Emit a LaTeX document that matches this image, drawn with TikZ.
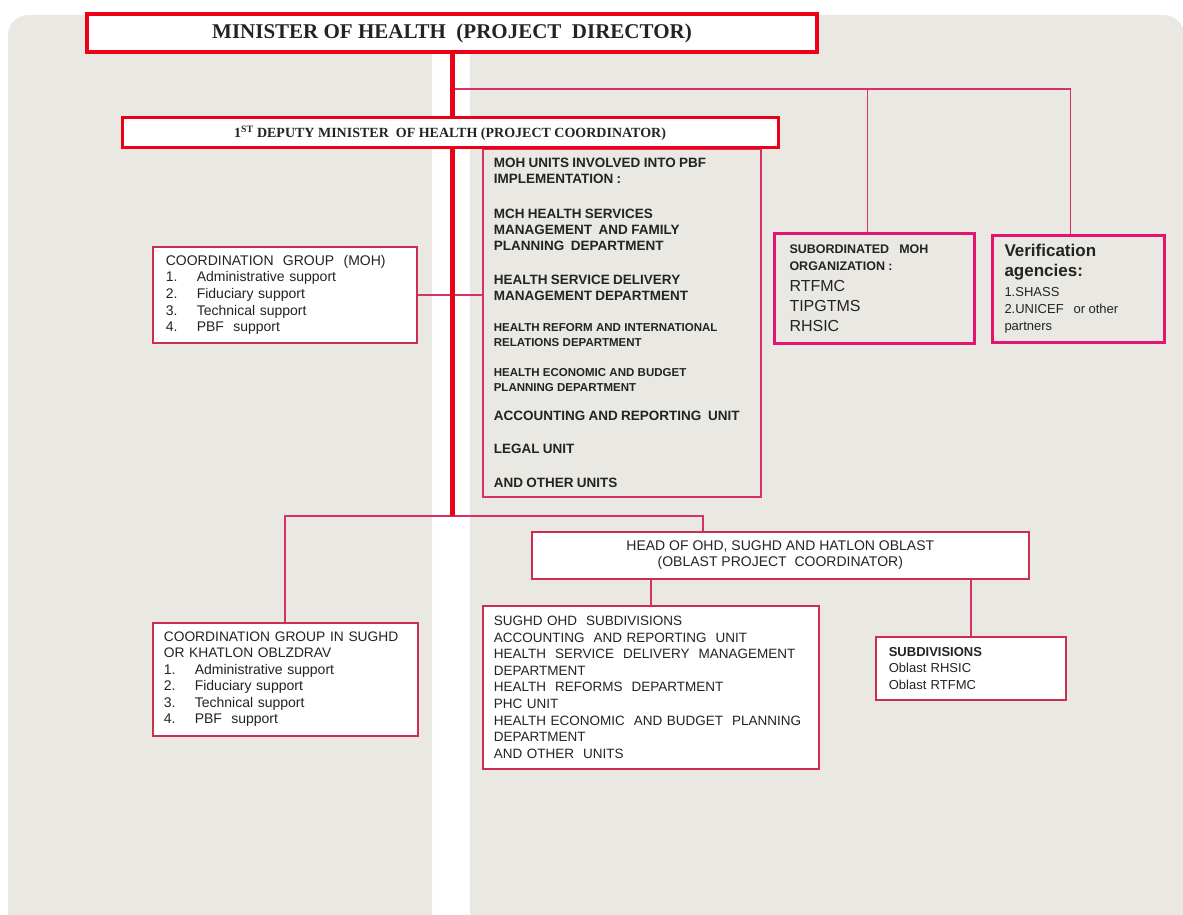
\documentclass[tikz,border=0pt]{standalone}
\usepackage{fontspec}
\setmainfont{Liberation Sans}
\newfontfamily\titlefont{Liberation Serif}
\usepackage{tikz}
\usetikzlibrary{positioning}

\definecolor{panelbg}{RGB}{233,232,226}
\definecolor{orgred}{RGB}{236,0,22}
\definecolor{linkpink}{RGB}{218,48,104}
\definecolor{boxpink}{RGB}{226,22,112}
\definecolor{edgered}{RGB}{205,45,80}
\definecolor{inktext}{RGB}{35,35,35}

\newcommand{\bigunit}{\fontsize{13.5}{16}\selectfont\bfseries}
\newcommand{\smallunit}{\fontsize{11.5}{15}\selectfont\bfseries}
\newcommand{\numitem}[2]{\makebox[31pt][l]{#1}#2}

\begin{document}
\begin{tikzpicture}[
    x=1pt, y=-1pt,
    panel/.style={fill=panelbg, rounded corners=20pt},
    topbox/.style={rectangle, draw=orgred, line width=4pt, fill=white, text=inktext, font=\titlefont\bfseries\fontsize{21}{24}\selectfont, minimum width=730pt, minimum height=38pt},
    deputybox/.style={rectangle, draw=orgred, line width=3pt, fill=white, text=inktext, font=\titlefont\bfseries\fontsize{14}{16}\selectfont, minimum width=656pt, minimum height=30pt},
    unitbox/.style={rectangle, draw=linkpink, line width=1.6pt, text=inktext, align=left, anchor=north west, inner ysep=2pt},
    groupbox/.style={rectangle, draw=edgered, line width=1.6pt, fill=white, text=inktext, align=left, anchor=north west, inner ysep=2pt, font=\fontsize{14}{16.7}\selectfont},
    orgbox/.style={rectangle, draw=boxpink, line width=3pt, text=inktext, align=left, inner ysep=2pt},
    link/.style={draw=linkpink, line width=1.8pt},
    trunk/.style={draw=orgred, line width=5pt}
]
\clip (0,0) rectangle (1183,915);
\fill[white] (0,0) rectangle (1183,915);

% Background panels
\fill[panel] (8,15) rectangle (432,940);
\fill[panel] (470,15) rectangle (1184,940);

% Minister of health
\node[topbox] (minister) at (452,33) {MINISTER OF HEALTH\ \ (PROJECT\ \ DIRECTOR)};

% MOH units
\node[unitbox, text width=256pt, inner xsep=11pt, minimum height=348pt] (moh_units) at (482,148) {
    {\bigunit MOH UNITS INVOLVED INTO PBF\\ IMPLEMENTATION :\par}
    \vspace{19pt}
    {\bigunit MCH HEALTH SERVICES\\ MANAGEMENT\ \ AND FAMILY\\ PLANNING\ \ DEPARTMENT\par}
    \vspace{18pt}
    {\bigunit HEALTH SERVICE DELIVERY\\ MANAGEMENT DEPARTMENT\par}
    \vspace{16pt}
    {\smallunit HEALTH REFORM AND INTERNATIONAL\\ RELATIONS DEPARTMENT\par}
    \vspace{15pt}
    {\smallunit HEALTH ECONOMIC AND BUDGET\\ PLANNING DEPARTMENT\par}
    \vspace{13pt}
    {\bigunit ACCOUNTING AND REPORTING\ \ UNIT\par}
    \vspace{17pt}
    {\bigunit LEGAL UNIT\par}
    \vspace{18pt}
    {\bigunit AND OTHER UNITS\par}
};

% Coordination group (MOH)
\node[groupbox, text width=238pt, inner xsep=13pt, minimum height=96pt] (coord_moh) at (152,246) {
    COORDINATION\ \ GROUP\ \ (MOH)\\
    \numitem{1.}{Administrative support}\\
    \numitem{2.}{Fiduciary support}\\
    \numitem{3.}{Technical support}\\
    \numitem{4.}{PBF\ \ support}
};

% Subordinated organization and verification
\node[orgbox, anchor=north west, text width=170pt, inner xsep=15pt, minimum height=110pt] (sub_org) at (773,232) {
    {\fontsize{12.5}{17}\selectfont\bfseries SUBORDINATED\ \ \ MOH\\ ORGANIZATION :\par}
    \vspace{1pt}
    {\fontsize{16}{20}\selectfont RTFMC\\ TIPGTMS\\ RHSIC\par}
};
\node[orgbox, right=15pt of sub_org, text width=148pt, inner xsep=12pt, minimum height=107pt] (verif) {
    {\fontsize{17}{19.5}\selectfont\bfseries Verification\\ agencies:\par}
    \vspace{3pt}
    {\fontsize{13}{17}\selectfont 1.SHASS\\ 2.UNICEF\ \ \ or other\\ partners\par}
};

% Oblast level
\node[groupbox, align=center, minimum width=497pt, minimum height=47pt, font=\fontsize{14}{16}\selectfont] (head) at (531,531) {
    HEAD OF OHD,\ SUGHD AND HATLON OBLAST\\
    (OBLAST PROJECT\ \ COORDINATOR)
};
\node[groupbox, text width=243pt, inner xsep=11pt, minimum height=113pt] (coord_obl) at (152,622) {
    {\fontsize{13.8}{16.5}\selectfont COORDINATION GROUP IN SUGHD\\
    OR KHATLON OBLZDRAV\par}
    {\fontsize{14}{16.5}\selectfont
    \numitem{1.}{Administrative support}\\
    \numitem{2.}{Fiduciary support}\\
    \numitem{3.}{Technical support}\\
    \numitem{4.}{PBF\ \ support}\par}
};
\node[groupbox, text width=314pt, inner xsep=11pt, minimum height=163pt, font=\fontsize{13.5}{16.6}\selectfont] (sughd) at (482,605) {
    SUGHD OHD\ \ SUBDIVISIONS\\
    ACCOUNTING\ \ AND REPORTING\ \ UNIT\\
    HEALTH\ \ SERVICE\ \ DELIVERY\ \ MANAGEMENT\\
    DEPARTMENT\\
    HEALTH\ \ REFORMS\ \ DEPARTMENT\\
    PHC UNIT\\
    HEALTH ECONOMIC\ \ AND BUDGET\ \ PLANNING\\
    DEPARTMENT\\
    AND OTHER\ \ UNITS
};
\node[groupbox, text width=164pt, inner xsep=13pt, minimum height=63pt, font=\fontsize{13}{16.5}\selectfont] (subdiv) at (875,636) {
    \textbf{SUBDIVISIONS}\\
    Oblast RHSIC\\
    Oblast RTFMC
};

% Connectors
\coordinate (top_branch) at (452,89);
\coordinate (trunk_end) at (452,516);
\draw[link] (top_branch) -| ([xshift=-8pt]verif.north);
\draw[link] ([xshift=-7pt]sub_org.north |- top_branch) -- ([xshift=-7pt]sub_org.north);
\draw[link] (coord_moh.east) -- (coord_moh.east -| moh_units.west);
\draw[link] (coord_obl.north) |- ([xshift=-77pt]head.north |- trunk_end) -- ([xshift=-77pt]head.north);
\draw[link] (head.south -| sughd.north) -- (sughd.north);
\draw[link] (head.south -| subdiv.north) -- (subdiv.north);
\draw[trunk] (minister.south) -- (trunk_end);

% 1st deputy minister
\node[deputybox] (deputy) at (450,133) {1\textsuperscript{ST} DEPUTY MINISTER\ \ OF HEALTH (PROJECT COORDINATOR)};

\end{tikzpicture}
\end{document}
